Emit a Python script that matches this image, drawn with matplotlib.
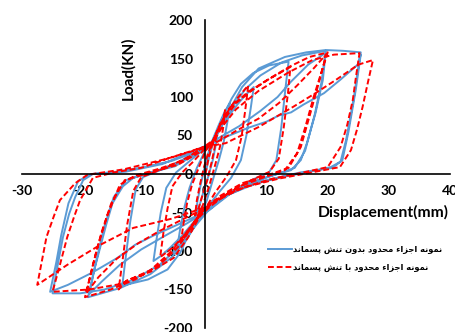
import matplotlib
matplotlib.use("Agg")
import matplotlib.pyplot as plt

plt.rcParams["axes.unicode_minus"] = False

# FE model without residual stress (blue, solid) - traced cycle vertices
bx = [0, 0.6, 1.3, 2.0, 1.7, 1.2, 0.4, -0.4, -1.0, -1.6, -1.3, -0.8, -0.1, 0.5,
      1.2, 2.2, 3.1, 4.0, 3.6, 3.0, 2.2, 1.2, 0.2, -0.8, -2.0, -3.2, -4.6, -4.1, -3.4, -2.6, -1.4, -0.2,
      0.8, 2.0, 3.5, 5.2, 6.6, 7.9, 7.4, 6.7, 5.8, 4.2, 2.4, 0.8, -0.4, -2.0, -3.8, -5.8, -7.2, -8.5,
      -8.0, -7.3, -6.4, -4.8, -3.0, -1.2, 0.2,
      1.0, 2.0, 3.2, 4.3, 5.8, 7.8, 10.4, 13.6, 13.1, 12.4, 11.6, 10.4, 7.5, 4.2, 1.5, 0, -1.2, -2.6,
      -4.1, -6.2, -9.4, -13.6, -13.1, -12.3, -11.4, -10.2, -6.5, -3.0, -0.6,
      1.2, 2.6, 4.5, 6.5, 9.0, 12.5, 15.8, 19.7, 19.2, 18.0, 16.6, 15.6, 14.0, 10.0, 6.0, 2.5, 0.2,
      -1.2, -3.0, -5.5, -9.0, -13.9, -19.2, -18.2, -17.2, -16.2, -15.2, -13.5, -11.8, -8.0, -4.5, -1.2,
      2.0, 5.5, 9.0, 11.8, 14.0, 16.8, 19.6, 19.0, 17.9, 16.3, 14.6, 11.0, 6.5, 2.8, 0.4, -3.0, -7.0,
      -10.5, -14.0, -17.0, -19.0, -18.0, -16.6, -15.0, -13.0, -9.0, -5.0, -1.5,
      0.8, 2.2, 4.0, 6.0, 8.7, 13.0, 16.5, 19.7, 22.5, 25.4, 24.8, 24.3, 23.6, 23.0, 22.1, 20.5, 17.2,
      12.5, 7.0, 3.0, 0.4, -1.5, -4.0, -7.5, -12.0, -16.5, -20.5, -25.0, -24.2, -23.3, -22.3, -21.3,
      -20.0, -18.4, -14.5, -10.0, -5.5, -1.8,
      3.3, 7.0, 10.0, 12.0, 14.0, 16.0, 19.4, 22.0, 24.9, 25.4, 24.6, 23.4, 22.4, 20.8, 15.5, 9.0,
      4.0, 0.6, -3.5, -8.5, -11.5, -14.4, -18.5, -22.5, -25.4, -24.4, -23.6, -22.4, -20.8, -18.6,
      -13.0, -7.0, -2.0, 0.5]
by = [0, 22, 42, 56, 38, 18, -5, -25, -42, -55, -35, -15, 10, 28,
      45, 64, 80, 92, 68, 42, 18, -8, -35, -52, -70, -84, -95, -70, -42, -18, 8, 28,
      38, 55, 72, 90, 103, 113, 85, 50, 18, -5, -22, -38, -48, -63, -80, -96, -106, -113,
      -85, -50, -18, 2, 14, 26, 34,
      40, 57, 80, 98, 117, 131, 141, 146, 112, 60, 18, 2, -8, -24, -40, -47, -56, -76,
      -102, -124, -137, -145, -112, -62, -20, -4, 8, 20, 33,
      40, 62, 88, 110, 128, 145, 154, 160, 122, 79, 40, 18, 5, -4, -16, -32, -46,
      -60, -84, -108, -130, -148, -160, -125, -95, -65, -38, -16, -5, 4, 15, 30,
      46, 62, 82, 100, 120, 142, 157, 120, 78, 30, 8, -2, -14, -30, -47, -64, -82,
      -98, -118, -140, -156, -118, -70, -30, -8, 2, 10, 26,
      36, 56, 84, 113, 137, 152, 158, 161, 160, 158, 128, 100, 70, 44, 16, 9, 3,
      -4, -15, -30, -48, -66, -92, -118, -138, -150, -155, -155, -120, -82, -52, -30,
      -8, 0, 3, 9, 17, 28,
      48, 60, 68, 76, 80, 90, 105, 122, 142, 155, 110, 55, 18, 8, 2, -10,
      -26, -47, -62, -80, -92, -109, -128, -144, -153, -115, -80, -38, -9, 0,
      3, 13, 30, 38]

# FE model with residual stress (red, dashed)
rx = [0, 0.5, 1.1, 1.8, 1.5, 1.0, 0.3, -0.5, -1.1, -1.7, -1.4, -0.9, -0.2, 0.4,
      1.3, 2.3, 3.0, 3.2, 2.9, 2.4, 1.6, 0.6, -0.4, -1.5, -2.8, -4.0, -3.6, -3.0, -2.2, -1.0, 0.0,
      1.3, 2.5, 4.1, 5.6, 7.0, 6.5, 5.9, 5.0, 3.4, 1.6, 0.2, -1.6, -3.5, -5.4, -7.4, -6.9, -6.2,
      -5.4, -3.8, -2.0, -0.4,
      1.3, 2.5, 4.1, 6.9, 10.1, 13.9, 13.5, 12.8, 12.0, 10.5, 7.0, 3.5, 0.8, -1.0, -2.8, -5.2, -9.0,
      -12.8, -14.2, -13.6, -12.8, -11.8, -10.5, -6.5, -2.8, -0.3,
      1.3, 3.0, 5.0, 7.5, 10.5, 13.9, 17.0, 20.0, 18.8, 17.7, 16.3, 15.0, 13.0, 9.0, 5.0, 1.5, -0.3,
      -2.0, -4.5, -7.5, -11.5, -15.5, -19.7, -18.7, -17.7, -16.0, -14.0, -11.5, -7.5, -3.5, -0.5,
      2.0, 5.0, 8.7, 12.0, 15.0, 17.8, 19.8, 18.6, 17.2, 15.6, 13.6, 10.0, 6.0, 2.5, 0.0, -3.5, -7.5,
      -11.0, -14.5, -17.5, -19.5, -18.4, -17.0, -15.4, -13.2, -9.0, -4.5, -1.0,
      1.0, 2.8, 5.0, 8.7, 13.6, 17.5, 21.0, 25.2, 24.6, 24.1, 23.2, 22.1, 20.0, 16.0, 11.0, 6.0, 2.0,
      -0.3, -2.5, -5.5, -9.0, -14.0, -19.0, -25.0, -23.8, -22.6, -21.5, -20.5, -18.4, -15.0, -10.5,
      -6.2, -2.0, -0.3,
      3.3, 8.7, 14.3, 18.0, 21.3, 25.0, 27.4, 26.6, 25.7, 24.8, 23.8, 22.0, 18.0, 12.0, 6.5, 2.5,
      -0.3, -5.5, -11.8, -17.2, -22.6, -27.5, -26.8, -26.0, -24.8, -23.8, -21.3, -19.3, -13.4,
      -6.2, -0.3]
ry = [0, 20, 38, 52, 34, 15, -8, -28, -44, -54, -34, -14, 10, 26,
      44, 62, 72, 83, 60, 36, 12, -16, -40, -58, -76, -88, -65, -38, -14, 10, 30,
      44, 66, 87, 102, 115, 82, 48, 18, -4, -24, -42, -60, -80, -96, -108, -78, -45,
      -16, 2, 16, 30,
      44, 66, 87, 106, 122, 139, 105, 60, 20, 3, -10, -26, -42, -56, -82, -109, -127,
      -138, -150, -115, -66, -22, -4, 8, 22, 35,
      44, 70, 92, 108, 124, 140, 152, 158, 128, 100, 60, 27, 5, -6, -18, -36, -46,
      -66, -95, -118, -137, -150, -160, -128, -96, -53, -14, -2, 7, 18, 34,
      42, 56, 72, 92, 115, 138, 156, 120, 80, 35, 8, -2, -12, -28, -44, -58, -74,
      -90, -110, -134, -155, -118, -76, -38, -8, 2, 12, 28,
      38, 62, 84, 108, 132, 148, 155, 157, 125, 96, 64, 35, 9, 2, -6, -18, -34,
      -46, -70, -100, -125, -143, -150, -153, -118, -82, -56, -34, -5, 2, 8,
      20, 30, 35,
      40, 61, 87, 105, 122, 142, 148, 120, 87, 58, 31, 9, 3, -6, -17, -30,
      -44, -58, -70, -92, -118, -144, -115, -82, -55, -34, -12, -1, 6,
      20, 35]

xticks = [-30, -20, -10, 0, 10, 20, 30, 40]
yticks = [-200, -150, -100, -50, 0, 50, 100, 150, 200]
label_blue = "نمونه اجزاء محدود بدون تنش پسماند"
label_red = "نمونه اجزاء محدود با تنش پسماند"


def shape(text):
    # simple Arabic/Persian shaping: forms = isolated, final, initial, medial
    forms = {
        'ا': ('\uFE8D', '\uFE8E', None, None),
        'ء': ('\uFE80', None, None, None),
        'ب': ('\uFE8F', '\uFE90', '\uFE91', '\uFE92'),
        'پ': ('\uFB56', '\uFB57', '\uFB58', '\uFB59'),
        'ت': ('\uFE95', '\uFE96', '\uFE97', '\uFE98'),
        'ج': ('\uFE9D', '\uFE9E', '\uFE9F', '\uFEA0'),
        'ح': ('\uFEA1', '\uFEA2', '\uFEA3', '\uFEA4'),
        'د': ('\uFEA9', '\uFEAA', None, None),
        'ز': ('\uFEAF', '\uFEB0', None, None),
        'س': ('\uFEB1', '\uFEB2', '\uFEB3', '\uFEB4'),
        'ش': ('\uFEB5', '\uFEB6', '\uFEB7', '\uFEB8'),
        'م': ('\uFEE1', '\uFEE2', '\uFEE3', '\uFEE4'),
        'ن': ('\uFEE5', '\uFEE6', '\uFEE7', '\uFEE8'),
        'ه': ('\uFEE9', '\uFEEA', '\uFEEB', '\uFEEC'),
        'و': ('\uFEED', '\uFEEE', None, None),
    }
    out = []
    for i, c in enumerate(text):
        if c not in forms:
            out.append(c)
            continue
        prev = text[i - 1] if i > 0 else ' '
        nxt = text[i + 1] if i < len(text) - 1 else ' '
        jp = prev in forms and forms[prev][2] is not None and forms[c][1] is not None
        jn = forms[c][2] is not None and nxt in forms and forms[nxt][1] is not None
        if jp and jn:
            out.append(forms[c][3])
        elif jp:
            out.append(forms[c][1])
        elif jn:
            out.append(forms[c][2])
        else:
            out.append(forms[c][0])
    return ''.join(reversed(out))


fig = plt.figure(figsize=(4.55, 3.32), dpi=100)
ax = fig.add_axes([22 / 455, 4 / 332, 428 / 455, 308 / 332])

ax.plot(bx, by, color="#5B9BD5", lw=1.4, label=shape(label_blue))
ax.plot(rx, ry, color="#FF0000", lw=1.4, ls=(0, (3, 1.5)), label=shape(label_red))

ax.set_xlim(-30, 40)
ax.set_ylim(-200, 200)
ax.spines["left"].set_position(("data", 0))
ax.spines["bottom"].set_position(("data", 0))
ax.spines["top"].set_visible(False)
ax.spines["right"].set_visible(False)
ax.spines["left"].set_linewidth(1.2)
ax.spines["bottom"].set_linewidth(1.2)
ax.set_xticks(xticks)
ax.set_yticks(yticks)
ax.tick_params(length=0, labelsize=10)
ax.tick_params(axis="y", pad=9)
ax.tick_params(axis="x", pad=8)
for t in ax.get_xticklabels() + ax.get_yticklabels():
    t.set_fontfamily("Lato")
    t.set_fontweight("bold")

fig.text(383 / 455, 1 - 212 / 332, "Displacement(mm)", ha="center", va="center",
         fontsize=11.3, fontweight="bold", family="Lato")
fig.text(128 / 455, 1 - 68 / 332, "Load(KN)", ha="center", va="center", rotation=90,
         fontsize=11, fontweight="bold", family="Lato")

leg = ax.legend(loc="upper left", bbox_to_anchor=(268 / 455, 1 - 245 / 332),
                bbox_transform=fig.transFigure, frameon=False, borderpad=0,
                borderaxespad=0, handlelength=2.9, handletextpad=0.15,
                labelspacing=1.1, prop={"family": "DejaVu Sans", "weight": "bold", "size": 6.0})

fig.savefig("out.png", dpi=100)
